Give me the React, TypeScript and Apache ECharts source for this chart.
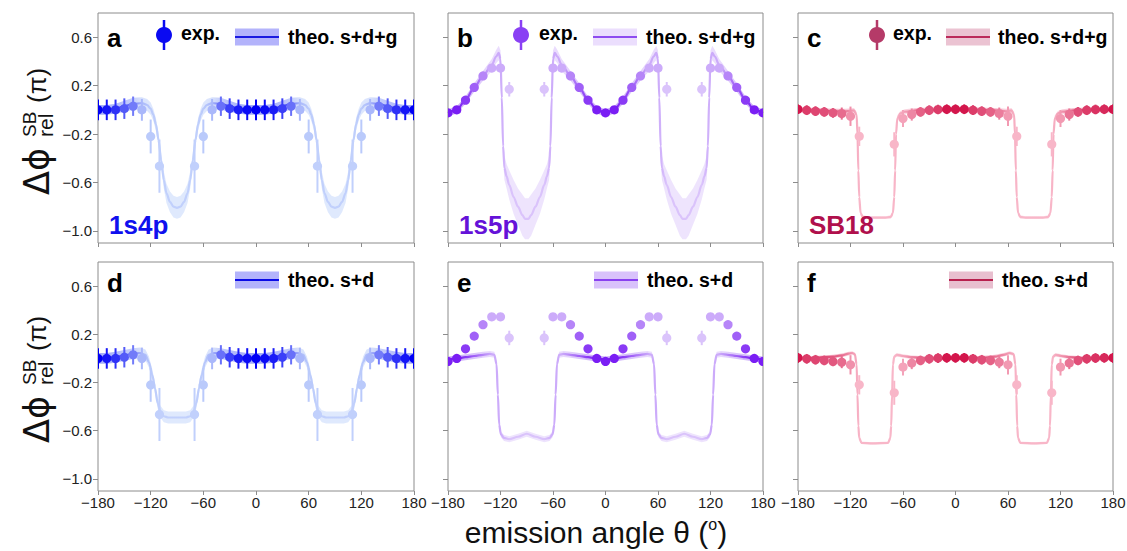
import React, { useEffect, useRef } from "react";
import * as echarts from "echarts";

type Exp = [number, number, number, number]; // angle, phase, error, weight
type Theo = [number, number, number]; // angle, phase, half band

const xTickStep = 60;
const yTickValues = [-1.0, -0.6, -0.2, 0.2, 0.6];
const yMin = -1.1;
const yMax = 0.8;

const exp1s4p: Exp[] = [
  [-180, 0.0, 0.085, 1.0], [-170, 0.0, 0.085, 0.9], [-160, 0.0, 0.085, 0.78], [-150, 0.01, 0.085, 0.6],
  [-140, 0.03, 0.08, 0.45], [-130, 0.0, 0.09, 0.18], [-120, -0.22, 0.14, 0.1], [-110, -0.465, 0.22, 0.07],
  [-70, -0.465, 0.22, 0.07], [-60, -0.22, 0.14, 0.1], [-50, 0.0, 0.09, 0.18], [-40, 0.03, 0.08, 0.5],
  [-30, 0.01, 0.085, 0.72], [-20, 0.0, 0.085, 0.88], [-10, 0.0, 0.085, 0.95], [0, 0.0, 0.085, 1.0],
  [10, 0.0, 0.085, 0.95], [20, 0.0, 0.085, 0.88], [30, 0.01, 0.085, 0.72], [40, 0.03, 0.08, 0.5],
  [50, 0.0, 0.09, 0.18], [60, -0.22, 0.14, 0.1], [70, -0.465, 0.22, 0.07], [110, -0.465, 0.22, 0.07],
  [120, -0.22, 0.14, 0.1], [130, 0.0, 0.09, 0.18], [140, 0.03, 0.08, 0.45], [150, 0.01, 0.085, 0.6],
  [160, 0.0, 0.085, 0.78], [170, 0.0, 0.085, 0.9], [180, 0.0, 0.085, 1.0],
];

const exp1s5p: Exp[] = [
  [-180, -0.025, 0.02, 1.0], [-170, 0.0, 0.02, 1.0], [-160, 0.08, 0.02, 0.85], [-150, 0.185, 0.02, 0.65],
  [-140, 0.28, 0.02, 0.45], [-130, 0.345, 0.02, 0.25], [-120, 0.345, 0.02, 0.25], [-110, 0.17, 0.06, 0.12],
  [-70, 0.17, 0.06, 0.12], [-60, 0.345, 0.02, 0.25], [-50, 0.345, 0.02, 0.25], [-40, 0.28, 0.02, 0.45],
  [-30, 0.185, 0.02, 0.65], [-20, 0.08, 0.02, 0.85], [-10, 0.0, 0.02, 1.0], [0, -0.025, 0.02, 1.0],
  [10, 0.0, 0.02, 1.0], [20, 0.08, 0.02, 0.85], [30, 0.185, 0.02, 0.65], [40, 0.28, 0.02, 0.45],
  [50, 0.345, 0.02, 0.25], [60, 0.345, 0.02, 0.25], [70, 0.17, 0.06, 0.12], [110, 0.17, 0.06, 0.12],
  [120, 0.345, 0.02, 0.25], [130, 0.345, 0.02, 0.25], [140, 0.28, 0.02, 0.45], [150, 0.185, 0.02, 0.65],
  [160, 0.08, 0.02, 0.85], [170, 0.0, 0.02, 1.0], [180, -0.025, 0.02, 1.0],
];

const expSB18: Exp[] = [
  [-180, 0.005, 0.04, 1.0], [-170, -0.003, 0.04, 0.8], [-160, -0.011, 0.04, 0.75], [-150, -0.017, 0.04, 0.7],
  [-140, -0.025, 0.04, 0.65], [-130, -0.031, 0.05, 0.55], [-120, -0.053, 0.08, 0.35], [-110, -0.219, 0.08, 0.15],
  [-70, -0.285, 0.1, 0.15], [-60, -0.072, 0.07, 0.25], [-50, -0.039, 0.05, 0.4], [-40, -0.017, 0.04, 0.6],
  [-30, -0.003, 0.04, 0.7], [-20, 0.003, 0.04, 0.8], [-10, 0.005, 0.04, 1.0], [0, 0.005, 0.04, 1.0],
  [10, 0.005, 0.04, 1.0], [20, -0.003, 0.04, 0.8], [30, -0.011, 0.04, 0.7], [40, -0.017, 0.04, 0.6],
  [50, -0.031, 0.05, 0.45], [60, -0.053, 0.08, 0.3], [70, -0.219, 0.08, 0.15], [110, -0.285, 0.1, 0.15],
  [120, -0.072, 0.07, 0.3], [130, -0.039, 0.05, 0.5], [140, -0.017, 0.04, 0.7], [150, -0.003, 0.04, 0.8],
  [160, 0.003, 0.04, 0.85], [170, 0.005, 0.04, 0.9], [180, 0.005, 0.04, 1.0],
];

const theo1s4pSDG: Theo[] = [
  [-180, 0.0, 0.04], [-170, 0.0, 0.04], [-160, 0.01, 0.04], [-150, 0.03, 0.045], [-140, 0.05, 0.05],
  [-130, 0.055, 0.05], [-124, 0.04, 0.05], [-120, 0.01, 0.05], [-117, -0.04, 0.05], [-114, -0.12, 0.05],
  [-111, -0.25, 0.055], [-108, -0.42, 0.06], [-105, -0.58, 0.07], [-102, -0.69, 0.08], [-98, -0.76, 0.085],
  [-94, -0.8, 0.09], [-90, -0.81, 0.09], [-86, -0.8, 0.09], [-82, -0.76, 0.085], [-78, -0.69, 0.08],
  [-75, -0.58, 0.07], [-72, -0.42, 0.06], [-69, -0.25, 0.055], [-66, -0.12, 0.05], [-63, -0.04, 0.05],
  [-60, 0.01, 0.05], [-56, 0.04, 0.05], [-50, 0.055, 0.05], [-40, 0.05, 0.05], [-30, 0.03, 0.045],
  [-20, 0.01, 0.04], [-10, 0.0, 0.04], [0, 0.0, 0.04], [10, 0.0, 0.04], [20, 0.01, 0.04],
  [30, 0.03, 0.045], [40, 0.05, 0.05], [50, 0.055, 0.05], [56, 0.04, 0.05], [60, 0.01, 0.05],
  [63, -0.04, 0.05], [66, -0.12, 0.05], [69, -0.25, 0.055], [72, -0.42, 0.06], [75, -0.58, 0.07],
  [78, -0.69, 0.08], [82, -0.76, 0.085], [86, -0.8, 0.09], [90, -0.81, 0.09], [94, -0.8, 0.09],
  [98, -0.76, 0.085], [102, -0.69, 0.08], [105, -0.58, 0.07], [108, -0.42, 0.06], [111, -0.25, 0.055],
  [114, -0.12, 0.05], [117, -0.04, 0.05], [120, 0.01, 0.05], [124, 0.04, 0.05], [130, 0.055, 0.05],
  [140, 0.05, 0.05], [150, 0.03, 0.045], [160, 0.01, 0.04], [170, 0.0, 0.04], [180, 0.0, 0.04],
];

const theo1s5pSDG: Theo[] = [
  [-180, -0.025, 0.03], [-170, 0.0, 0.03], [-160, 0.08, 0.03], [-150, 0.185, 0.035], [-140, 0.28, 0.04],
  [-130, 0.37, 0.05], [-125, 0.44, 0.055], [-122, 0.47, 0.06], [-120, 0.42, 0.07], [-118.5, 0.1, 0.12],
  [-117, -0.3, 0.12], [-115.5, -0.48, 0.1], [-113, -0.55, 0.1], [-110, -0.62, 0.12], [-105, -0.72, 0.14],
  [-100, -0.8, 0.15], [-95, -0.87, 0.17], [-92, -0.9, 0.17], [-88, -0.9, 0.17], [-85, -0.87, 0.17],
  [-80, -0.8, 0.15], [-75, -0.72, 0.14], [-70, -0.62, 0.12], [-67, -0.55, 0.1], [-64.5, -0.48, 0.1],
  [-63, -0.3, 0.12], [-61.5, 0.1, 0.12], [-60, 0.42, 0.07], [-58, 0.47, 0.06], [-55, 0.44, 0.055],
  [-50, 0.37, 0.05], [-40, 0.28, 0.04], [-30, 0.185, 0.035], [-20, 0.08, 0.03], [-10, 0.0, 0.03],
  [0, -0.025, 0.03], [10, 0.0, 0.03], [20, 0.08, 0.03], [30, 0.185, 0.035], [40, 0.28, 0.04],
  [50, 0.37, 0.05], [55, 0.44, 0.055], [58, 0.47, 0.06], [60, 0.42, 0.07], [61.5, 0.1, 0.12],
  [63, -0.3, 0.12], [64.5, -0.48, 0.1], [67, -0.55, 0.1], [70, -0.62, 0.12], [75, -0.72, 0.14],
  [80, -0.8, 0.15], [85, -0.87, 0.17], [88, -0.9, 0.17], [92, -0.9, 0.17], [95, -0.87, 0.17],
  [100, -0.8, 0.15], [105, -0.72, 0.14], [110, -0.62, 0.12], [113, -0.55, 0.1], [115.5, -0.48, 0.1],
  [117, -0.3, 0.12], [118.5, 0.1, 0.12], [120, 0.42, 0.07], [122, 0.47, 0.06], [125, 0.44, 0.055],
  [130, 0.37, 0.05], [140, 0.28, 0.04], [150, 0.185, 0.035], [160, 0.08, 0.03], [170, 0.0, 0.03],
  [180, -0.025, 0.03],
];

const theoSB18SDG: Theo[] = [
  [-180, 0.0, 0.02], [-160, -0.005, 0.02], [-140, -0.012, 0.02], [-125, -0.012, 0.02], [-116, -0.005, 0.02],
  [-113, -0.04, 0.025], [-112, -0.2, 0.03], [-111, -0.5, 0.03], [-110, -0.72, 0.025], [-108.5, -0.85, 0.02],
  [-106, -0.885, 0.015], [-100, -0.89, 0.01], [-90, -0.89, 0.01], [-80, -0.89, 0.01], [-74, -0.885, 0.015],
  [-71.5, -0.85, 0.02], [-70, -0.72, 0.025], [-69, -0.5, 0.03], [-68, -0.2, 0.03], [-66.5, -0.07, 0.025],
  [-63, -0.03, 0.02], [-58, -0.015, 0.02], [-45, -0.005, 0.02], [-25, 0.0, 0.02], [0, 0.005, 0.02],
  [25, 0.0, 0.02], [45, -0.005, 0.02], [58, -0.012, 0.02], [64, -0.005, 0.02], [67, -0.04, 0.025],
  [68, -0.2, 0.03], [69, -0.5, 0.03], [70, -0.72, 0.025], [71.5, -0.85, 0.02], [74, -0.885, 0.015],
  [80, -0.89, 0.01], [90, -0.89, 0.01], [100, -0.89, 0.01], [106, -0.885, 0.015], [108.5, -0.85, 0.02],
  [110, -0.72, 0.025], [111, -0.5, 0.03], [112, -0.2, 0.03], [113.5, -0.07, 0.025], [117, -0.03, 0.02],
  [122, -0.015, 0.02], [135, -0.005, 0.02], [155, 0.0, 0.02], [180, 0.0, 0.02],
];

const theo1s4pSD: Theo[] = [
  [-180, 0.0, 0.045], [-170, 0.0, 0.045], [-160, 0.01, 0.045], [-150, 0.025, 0.045], [-140, 0.04, 0.045],
  [-132, 0.045, 0.045], [-126, 0.03, 0.045], [-122, -0.03, 0.045], [-118, -0.14, 0.045], [-115, -0.25, 0.045],
  [-112, -0.37, 0.045], [-109, -0.44, 0.05], [-105, -0.48, 0.05], [-100, -0.49, 0.05], [-90, -0.49, 0.05],
  [-80, -0.49, 0.05], [-75, -0.48, 0.05], [-71, -0.44, 0.05], [-68, -0.37, 0.045], [-65, -0.25, 0.045],
  [-62, -0.14, 0.045], [-58, -0.03, 0.045], [-54, 0.03, 0.045], [-48, 0.045, 0.045], [-40, 0.04, 0.045],
  [-30, 0.025, 0.045], [-20, 0.01, 0.045], [-10, 0.0, 0.045], [0, 0.0, 0.045], [10, 0.0, 0.045],
  [20, 0.01, 0.045], [30, 0.025, 0.045], [40, 0.04, 0.045], [48, 0.045, 0.045], [54, 0.03, 0.045],
  [58, -0.03, 0.045], [62, -0.14, 0.045], [65, -0.25, 0.045], [68, -0.37, 0.045], [71, -0.44, 0.05],
  [75, -0.48, 0.05], [80, -0.49, 0.05], [90, -0.49, 0.05], [100, -0.49, 0.05], [105, -0.48, 0.05],
  [109, -0.44, 0.05], [112, -0.37, 0.045], [115, -0.25, 0.045], [118, -0.14, 0.045], [122, -0.03, 0.045],
  [126, 0.03, 0.045], [132, 0.045, 0.045], [140, 0.04, 0.045], [150, 0.025, 0.045], [160, 0.01, 0.045],
  [170, 0.0, 0.045], [180, 0.0, 0.045],
];

const theo1s5pSD: Theo[] = [
  [-180, -0.01, 0.025], [-170, 0.0, 0.025], [-160, 0.01, 0.025], [-150, 0.02, 0.025], [-140, 0.03, 0.025],
  [-132, 0.037, 0.025], [-127, 0.03, 0.025], [-124.5, -0.05, 0.025], [-123, -0.3, 0.025], [-121.5, -0.55, 0.025],
  [-119.5, -0.63, 0.025], [-116, -0.66, 0.025], [-110, -0.67, 0.025], [-100, -0.65, 0.025], [-90, -0.625, 0.025],
  [-80, -0.65, 0.025], [-70, -0.67, 0.025], [-64, -0.66, 0.025], [-60.5, -0.63, 0.025], [-58.5, -0.55, 0.025],
  [-57, -0.3, 0.025], [-55.5, -0.05, 0.025], [-53, 0.03, 0.025], [-48, 0.037, 0.025], [-40, 0.03, 0.025],
  [-30, 0.02, 0.025], [-20, 0.01, 0.025], [-10, 0.0, 0.025], [0, -0.01, 0.025], [10, 0.0, 0.025],
  [20, 0.01, 0.025], [30, 0.02, 0.025], [40, 0.03, 0.025], [48, 0.037, 0.025], [53, 0.03, 0.025],
  [55.5, -0.05, 0.025], [57, -0.3, 0.025], [58.5, -0.55, 0.025], [60.5, -0.63, 0.025], [64, -0.66, 0.025],
  [70, -0.67, 0.025], [80, -0.65, 0.025], [90, -0.625, 0.025], [100, -0.65, 0.025], [110, -0.67, 0.025],
  [116, -0.66, 0.025], [119.5, -0.63, 0.025], [121.5, -0.55, 0.025], [123, -0.3, 0.025], [124.5, -0.05, 0.025],
  [127, 0.03, 0.025], [132, 0.037, 0.025], [140, 0.03, 0.025], [150, 0.02, 0.025], [160, 0.01, 0.025],
  [170, 0.0, 0.025], [180, -0.01, 0.025],
];

const theoSB18SD: Theo[] = [
  [-180, 0.0, 0.015], [-160, 0.005, 0.015], [-140, 0.015, 0.015], [-130, 0.025, 0.015], [-122, 0.04, 0.015],
  [-118, 0.045, 0.015], [-115, 0.035, 0.015], [-113, -0.05, 0.02], [-112, -0.3, 0.02], [-111, -0.56, 0.02],
  [-110, -0.66, 0.015], [-107.5, -0.7, 0.01], [-95, -0.705, 0.01], [-77, -0.7, 0.01], [-74.5, -0.66, 0.015],
  [-73.5, -0.56, 0.02], [-72.5, -0.3, 0.02], [-71.5, -0.05, 0.02], [-70, 0.015, 0.015], [-67, 0.03, 0.015],
  [-60, 0.02, 0.015], [-50, 0.01, 0.015], [-30, 0.0, 0.015], [0, 0.0, 0.015], [30, 0.005, 0.015],
  [45, 0.015, 0.015], [55, 0.03, 0.015], [62, 0.045, 0.015], [66.5, 0.035, 0.015], [68.5, -0.05, 0.02],
  [69.5, -0.3, 0.02], [70.5, -0.56, 0.02], [71.5, -0.66, 0.015], [74, -0.7, 0.01], [90, -0.705, 0.01],
  [104.5, -0.7, 0.01], [107, -0.66, 0.015], [108, -0.56, 0.02], [109, -0.3, 0.02], [110, -0.05, 0.02],
  [111.5, 0.015, 0.015], [114.5, 0.03, 0.015], [121, 0.02, 0.015], [131, 0.01, 0.015], [150, 0.0, 0.015],
  [180, 0.0, 0.015],
];

const FONT = "'Liberation Sans', Arial, Helvetica, sans-serif";

const palettes = {
  blue: { dark: "#0000f6", light: "#cfe0fc", bandDark: "#a3abf9", bandLight: "#e4eefd", label: "#1010ee" },
  purple: { dark: "#7a1ef4", light: "#e7dafc", bandDark: "#cdb0f9", bandLight: "#f3ebfe", label: "#6512d8" },
  pink: { dark: "#d3164c", light: "#ffd2de", bandDark: "#f2a6bc", bandLight: "#fee8ef", label: "#b0104c" },
};

type Pal = typeof palettes.blue;

const panels = [
  { exp: exp1s4p, theo: theo1s4pSDG, pal: palettes.blue, letter: "a", name: "1s4p", legend: "theo. s+d+g", row: 0, col: 0,
    leg: { marker: "#0a0af2", rect: "#b3b3fb", line: "#1a1ae0", mx: 164, ex: 181, rx: 235, tx: 288 } },
  { exp: exp1s5p, theo: theo1s5pSDG, pal: palettes.purple, letter: "b", name: "1s5p", legend: "theo. s+d+g", row: 0, col: 1,
    leg: { marker: "#8a40f4", rect: "#ebdefd", line: "#8e4cf0", mx: 521, ex: 539, rx: 593, tx: 646 } },
  { exp: expSB18, theo: theoSB18SDG, pal: palettes.pink, letter: "c", name: "SB18", legend: "theo. s+d+g", row: 0, col: 2,
    leg: { marker: "#b53a68", rect: "#ebc3d2", line: "#bb2a5a", mx: 877, ex: 893, rx: 946, tx: 998 } },
  { exp: exp1s4p, theo: theo1s4pSD, pal: palettes.blue, letter: "d", name: "", legend: "theo. s+d", row: 1, col: 0,
    leg: { marker: "", rect: "#b3b3fb", line: "#0a0ae6", mx: 0, ex: 0, rx: 235, tx: 288 } },
  { exp: exp1s5p, theo: theo1s5pSD, pal: palettes.purple, letter: "e", name: "", legend: "theo. s+d", row: 1, col: 1,
    leg: { marker: "", rect: "#d9c2fb", line: "#8a40f0", mx: 0, ex: 0, rx: 594, tx: 647 } },
  { exp: expSB18, theo: theoSB18SD, pal: palettes.pink, letter: "f", name: "", legend: "theo. s+d", row: 1, col: 2,
    leg: { marker: "", rect: "#e8bfcf", line: "#b8204e", mx: 0, ex: 0, rx: 949, tx: 1002 } },
];

const colLeft = [98, 448, 798];
const colWidth = [316, 315, 315];
const rowTop = [13, 262];
const rowHeight = [230, 229];

function hexToRgb(h: string) {
  const n = parseInt(h.slice(1), 16);
  return [(n >> 16) & 255, (n >> 8) & 255, n & 255];
}
function mix(c1: string, c2: string, t: number) {
  const a = hexToRgb(c1);
  const b = hexToRgb(c2);
  const r = a.map((v, i) => Math.round(v + (b[i] - v) * t));
  return `rgb(${r[0]},${r[1]},${r[2]})`;
}
function gradient(exp: Exp[], light: string, dark: string) {
  return new echarts.graphic.LinearGradient(
    0, 0, 1, 0,
    exp.map((e) => ({ offset: (e[0] + 180) / 360, color: mix(light, dark, e[3]) }))
  );
}
const fmt = (v: number, digits: number) => {
  const s = Math.abs(v).toFixed(digits);
  return v < -1e-9 ? "\u2212" + s : s;
};

function buildOption() {
  const grid = panels.map((p) => ({
    left: colLeft[p.col], top: rowTop[p.row], width: colWidth[p.col], height: rowHeight[p.row],
    show: true, borderColor: "#8c8c8c", borderWidth: 1, backgroundColor: "transparent",
    containLabel: false, outerBoundsMode: "none",
  }));
  const xAxis = panels.map((p, i) => ({
    type: "value", gridIndex: i, min: -180, max: 180, interval: xTickStep, position: "bottom",
    axisLine: { show: false, onZero: false },
    axisTick: { show: true, length: 4, lineStyle: { color: "#8c8c8c" } },
    axisLabel: { show: p.row === 1, color: "#222", fontSize: 15, fontFamily: FONT, margin: 4, formatter: (v: number) => fmt(v, 0) },
    splitLine: { show: false },
  }));
  const yAxis = panels.map((p, i) => ({
    type: "value", gridIndex: i, min: yMin, max: yMax, position: "left",
    axisLine: { show: false, onZero: false },
    axisTick: { show: true, length: 5, customValues: yTickValues, lineStyle: { color: "#8c8c8c" } },
    axisLabel: { show: p.col === 0, customValues: yTickValues, color: "#222", fontSize: 15, fontFamily: FONT, margin: 6, formatter: (v: number) => fmt(v, 1) },
    splitLine: { show: false },
  }));
  const series: any[] = [];
  panels.forEach((p, i) => {
    const pal: Pal = p.pal;
    const theo = p.theo;
    series.push({
      type: "custom", xAxisIndex: i, yAxisIndex: i, silent: true, z: 1, data: [[0, 0]],
      renderItem: (_params: any, api: any) => {
        const pts: number[][] = [];
        theo.forEach((t) => pts.push(api.coord([t[0], t[1] + t[2]])));
        for (let k = theo.length - 1; k >= 0; k--) pts.push(api.coord([theo[k][0], theo[k][1] - theo[k][2]]));
        return { type: "polygon", shape: { points: pts }, style: { fill: gradient(p.exp, pal.bandLight, pal.bandDark) } };
      },
    });
    series.push({
      type: "line", xAxisIndex: i, yAxisIndex: i, z: 2, silent: true, showSymbol: false,
      smooth: 0.3, smoothMonotone: "x",
      data: theo.map((t) => [t[0], t[1]]),
      lineStyle: { width: 2.2, color: gradient(p.exp, pal.light, pal.dark) },
    });
    series.push({
      type: "custom", xAxisIndex: i, yAxisIndex: i, z: 3, silent: true, clip: true,
      data: p.exp,
      renderItem: (_params: any, api: any) => {
        const x = api.value(0), y = api.value(1), err = api.value(2), w = api.value(3);
        const c = mix(pal.light, pal.dark, w);
        const pt = api.coord([x, y]);
        const top = api.coord([x, y + err]);
        const bot = api.coord([x, y - err]);
        return {
          type: "group",
          children: [
            { type: "line", shape: { x1: pt[0], y1: top[1], x2: pt[0], y2: bot[1] }, style: { stroke: c, lineWidth: 2 } },
            { type: "circle", shape: { cx: pt[0], cy: pt[1], r: 4.6 }, style: { fill: c } },
          ],
        };
      },
    });
  });

  const g: any[] = [];
  panels.forEach((p) => {
    const top = rowTop[p.row];
    const left = colLeft[p.col];
    const letterY = p.row === 0 ? 38 : 283;
    g.push({ type: "text", x: left + 9, y: letterY, z: 10,
      style: { text: p.letter, fontSize: 26, fontWeight: "bold", fontFamily: FONT, fill: "#000", textVerticalAlign: "middle" } });
    if (p.name) {
      g.push({ type: "text", x: left + 11, y: top + 212, z: 10,
        style: { text: p.name, fontSize: 26, fontWeight: "bold", fontFamily: FONT, fill: p.pal.label, textVerticalAlign: "middle" } });
    }
    const L = p.leg;
    const ly = p.row === 0 ? 37 : 280;
    if (L.marker) {
      g.push({ type: "line", z: 10, shape: { x1: L.mx, y1: 20, x2: L.mx, y2: 50 }, style: { stroke: L.marker, lineWidth: 2.5 } });
      g.push({ type: "circle", z: 10, shape: { cx: L.mx, cy: 35, r: 8 }, style: { fill: L.marker } });
      g.push({ type: "text", x: L.ex, y: 33, z: 10,
        style: { text: "exp.", fontSize: 19.5, fontWeight: "bold", fontFamily: FONT, fill: "#000", textVerticalAlign: "middle" } });
    }
    g.push({ type: "rect", z: 10, shape: { x: L.rx, y: ly - 8.5, width: 44, height: 17 }, style: { fill: L.rect } });
    g.push({ type: "line", z: 10, shape: { x1: L.rx, y1: ly, x2: L.rx + 44, y2: ly }, style: { stroke: L.line, lineWidth: 2 } });
    g.push({ type: "text", x: L.tx, y: ly, z: 10,
      style: { text: p.legend, fontSize: 19.5, fontWeight: "bold", fontFamily: FONT, fill: "#000", textVerticalAlign: "middle" } });
  });

  [128, 376].forEach((cy) => {
    g.push({
      type: "group", x: 36, y: cy, rotation: Math.PI / 2, z: 10,
      children: [
        { type: "text", x: -67, y: 1, style: { text: "Δϕ", fontSize: 35, fontFamily: "'DejaVu Sans', " + FONT, fill: "#111", textVerticalAlign: "middle" } },
        { type: "text", x: -9, y: -7, style: { text: "SB", fontSize: 19, fontFamily: FONT, fill: "#111", textVerticalAlign: "middle" } },
        { type: "text", x: -9, y: 9, style: { text: "rel", fontSize: 21, fontFamily: FONT, fill: "#111", textVerticalAlign: "middle" } },
        { type: "text", x: 25, y: 1, style: { text: "(π)", fontSize: 26, fontFamily: FONT, fill: "#111", textVerticalAlign: "middle" } },
      ],
    });
  });

  g.push({
    type: "text", x: 596, y: 532, z: 10,
    style: {
      text: "{n|emission angle θ (}{s|o}{n|)}",
      textAlign: "center", textVerticalAlign: "middle",
      rich: {
        n: { fontSize: 30, fontFamily: FONT, fill: "#111", lineHeight: 32 },
        s: { fontSize: 16, fontFamily: FONT, fill: "#111", verticalAlign: "top", lineHeight: 20 },
      },
    },
  });

  return { animation: false, backgroundColor: "#ffffff", grid, xAxis, yAxis, series, graphic: g };
}

export default function App() {
  const ref = useRef<HTMLDivElement>(null);
  useEffect(() => {
    if (!ref.current) return;
    const chart = echarts.init(ref.current, null, { renderer: "svg" });
    chart.setOption(buildOption() as any);
    return () => chart.dispose();
  }, []);
  return <div ref={ref} style={{ position: "absolute", left: 0, top: 0, width: 1127, height: 551 }} />;
}
